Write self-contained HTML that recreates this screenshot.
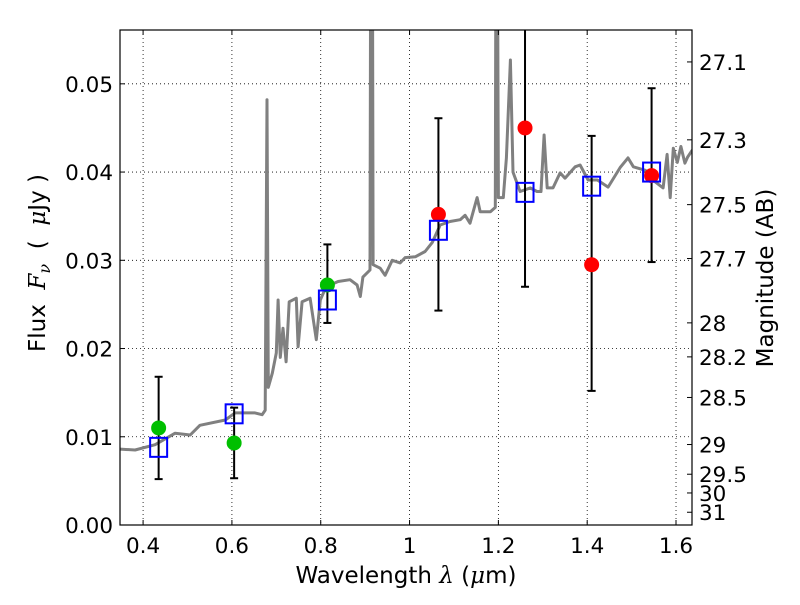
<!DOCTYPE html>
<html><head><meta charset="utf-8"><style>
body{margin:0;background:#fff}
svg text{font-family:"DejaVu Sans","Liberation Sans",sans-serif;fill:#000}
</style></head><body>
<svg id="chart" width="800" height="600" viewBox="0 0 800 600" xmlns="http://www.w3.org/2000/svg">
<defs><clipPath id="clip"><rect x="120" y="30" width="572" height="495"/></clipPath></defs>
<rect x="0" y="0" width="800" height="600" fill="#fff"/>
<g id="grid"></g>
<g id="spec" clip-path="url(#clip)"></g>
<g id="marks" clip-path="url(#clip)"></g>
<rect x="120" y="30" width="572" height="495" fill="none" stroke="#000" stroke-width="1.2"/>
<g id="axes"></g>
<text x="406" y="583" font-size="23" text-anchor="middle">Wavelength  <tspan font-style="italic" font-family="DejaVu Serif,serif">λ</tspan> (<tspan font-style="italic" font-family="DejaVu Serif,serif">μ</tspan>m)</text>
<text transform="translate(45,263) rotate(-90)" font-size="23" text-anchor="middle" xml:space="preserve">Flux  <tspan font-style="italic" font-family="DejaVu Serif,serif">F<tspan font-size="16" dy="5">ν</tspan></tspan><tspan dy="-5">  (  </tspan><tspan font-style="italic" font-family="DejaVu Serif,serif">μ</tspan>Jy )</text>
<text transform="translate(773,278) rotate(-90)" font-size="23" text-anchor="middle">Magnitude (AB)</text>
</svg>
<script>
const xTicks=[0.4,0.6,0.8,1.0,1.2,1.4,1.6];
const xTickLabels=["0.4","0.6","0.8","1","1.2","1.4","1.6"];
const yTicks=[0,0.01,0.02,0.03,0.04,0.05];
const yTickLabels=["0.00","0.01","0.02","0.03","0.04","0.05"];
const magTicks=[27.1,27.3,27.5,27.7,28,28.2,28.5,29,29.5,30,31];
const magTickLabels=["27.1","27.3","27.5","27.7","28","28.2","28.5","29","29.5","30","31"];
const specWave=[0.348,0.382,0.427,0.472,0.506,0.528,0.585,0.607,0.652,0.668,0.675,0.679,0.682,0.691,0.700,0.704,0.709,0.715,0.722,0.729,0.745,0.749,0.758,0.776,0.790,0.799,0.812,0.839,0.866,0.882,0.889,0.895,0.911,0.913,0.916,0.918,0.934,0.945,0.961,0.979,0.990,1.013,1.035,1.051,1.069,1.091,1.114,1.125,1.136,1.152,1.159,1.182,1.193,1.195,1.197,1.200,1.204,1.211,1.218,1.227,1.233,1.249,1.272,1.287,1.296,1.303,1.310,1.323,1.339,1.350,1.373,1.384,1.402,1.423,1.447,1.474,1.492,1.504,1.531,1.553,1.571,1.580,1.587,1.594,1.603,1.611,1.620,1.626,1.637];
const specFlux=[0.0086,0.0085,0.0091,0.0104,0.0102,0.0113,0.0119,0.0127,0.0127,0.0125,0.0130,0.0482,0.0156,0.0172,0.0195,0.0255,0.0190,0.0223,0.0185,0.0253,0.0257,0.0202,0.0253,0.0257,0.0210,0.0255,0.0270,0.0276,0.0278,0.0272,0.0259,0.0281,0.0289,0.080,0.080,0.0295,0.0291,0.0283,0.0300,0.0297,0.0303,0.0304,0.0310,0.0320,0.0340,0.0344,0.0346,0.0351,0.0342,0.0371,0.0355,0.0355,0.0360,0.080,0.080,0.0371,0.0371,0.0371,0.0416,0.0527,0.0400,0.0378,0.0382,0.0378,0.0378,0.0442,0.0382,0.0382,0.0399,0.0393,0.0406,0.0408,0.0391,0.0391,0.0383,0.0405,0.0416,0.0406,0.0402,0.0389,0.0382,0.0420,0.0371,0.0427,0.0411,0.0429,0.0410,0.0417,0.0425];
const photWave=[0.435,0.605,0.815,1.065,1.26,1.41,1.545];
const photFlux=[0.0110,0.0093,0.0272,0.0352,0.0450,0.0295,0.0396];
const photColor=["#00bf00","#00bf00","#00bf00","#ff0000","#ff0000","#ff0000","#ff0000"];
const errLow=[0.0052,0.0053,0.0229,0.0243,0.0270,0.0152,0.0298];
const errHigh=[0.0168,0.0133,0.0318,0.0461,0.0600,0.0441,0.0495];
const modelFlux=[0.0088,0.0126,0.0255,0.0334,0.0377,0.0384,0.0400];

const X0=120,X1=692,Y0=525,Y1=30,XMIN=0.348,XMAX=1.636,YMIN=0,YMAX=0.0561;
const sx=v=>X0+(v-XMIN)/(XMAX-XMIN)*(X1-X0);
const sy=v=>Y0-(v-YMIN)/(YMAX-YMIN)*(Y0-Y1);
const magToFlux=m=>Math.pow(10,(23.9-m)/2.5);
const NS="http://www.w3.org/2000/svg";
function mk(parent,tag,attrs){const e=document.createElementNS(NS,tag);for(const k in attrs)e.setAttribute(k,attrs[k]);parent.appendChild(e);return e;}
const grid=document.getElementById('grid'),axes=document.getElementById('axes'),spec=document.getElementById('spec'),marks=document.getElementById('marks');

xTicks.forEach((t,i)=>{const x=sx(t);
 const g=mk(grid,'line',{x1:x,x2:x,y1:Y1,y2:Y0,stroke:'#000','stroke-width':0.8,'stroke-dasharray':'1,3'});
 
 
 const a=mk(axes,'line',{x1:x,x2:x,y1:Y0,y2:Y0-5,stroke:'#000','stroke-width':1});
 
 
 const b=mk(axes,'line',{x1:x,x2:x,y1:Y1,y2:Y1+5,stroke:'#000','stroke-width':1});
 
 
 const tx=mk(axes,'text',{x:x,y:Y0+28,'font-size':21.5,'text-anchor':'middle'});tx.textContent=xTickLabels[i];
 
 
});
yTicks.forEach((t,i)=>{const y=sy(t);
 const g=mk(grid,'line',{x1:X0,x2:X1,y1:y,y2:y,stroke:'#000','stroke-width':0.8,'stroke-dasharray':'1,3'});
 
 
 const a=mk(axes,'line',{x1:X0,x2:X0+5,y1:y,y2:y,stroke:'#000','stroke-width':1});
 
 
 const tx=mk(axes,'text',{x:X0-7,y:y+8,'font-size':21.5,'text-anchor':'end'});tx.textContent=yTickLabels[i];
 
 
});
magTicks.forEach((m,i)=>{const y=sy(magToFlux(m));
 const a=mk(axes,'line',{x1:X1,x2:X1-5,y1:y,y2:y,stroke:'#000','stroke-width':1});
 
 
 const tx=mk(axes,'text',{x:X1+7,y:y+8,'font-size':21.5});tx.textContent=magTickLabels[i];
 
 
});
const d=specWave.map((w,i)=>(i?'L':'M')+sx(w).toFixed(1)+','+sy(specFlux[i]).toFixed(1)).join(' ');
const sp=mk(spec,'path',{d:d,fill:'none',stroke:'#808080','stroke-width':3,'stroke-linejoin':'round'});


photWave.forEach((w,i)=>{const x=sx(w);
 const e=mk(marks,'line',{x1:x,x2:x,y1:sy(errLow[i]),y2:sy(errHigh[i]),stroke:'#000','stroke-width':2});
 
 
 [errLow[i],errHigh[i]].forEach(v=>{const c=mk(marks,'line',{x1:x-4,x2:x+4,y1:sy(v),y2:sy(v),stroke:'#000','stroke-width':2});
  
  });
});
photWave.forEach((w,i)=>{
 const c=mk(marks,'circle',{cx:sx(w),cy:sy(photFlux[i]),r:7.5,fill:photColor[i]});
 
 
});
photWave.forEach((w,i)=>{
 const r=mk(marks,'rect',{x:sx(w)-8.5,y:sy(modelFlux[i])-9.5,width:17,height:19,fill:'none',stroke:'#0000ff','stroke-width':2});
 
 
});
</script>
</body></html>
